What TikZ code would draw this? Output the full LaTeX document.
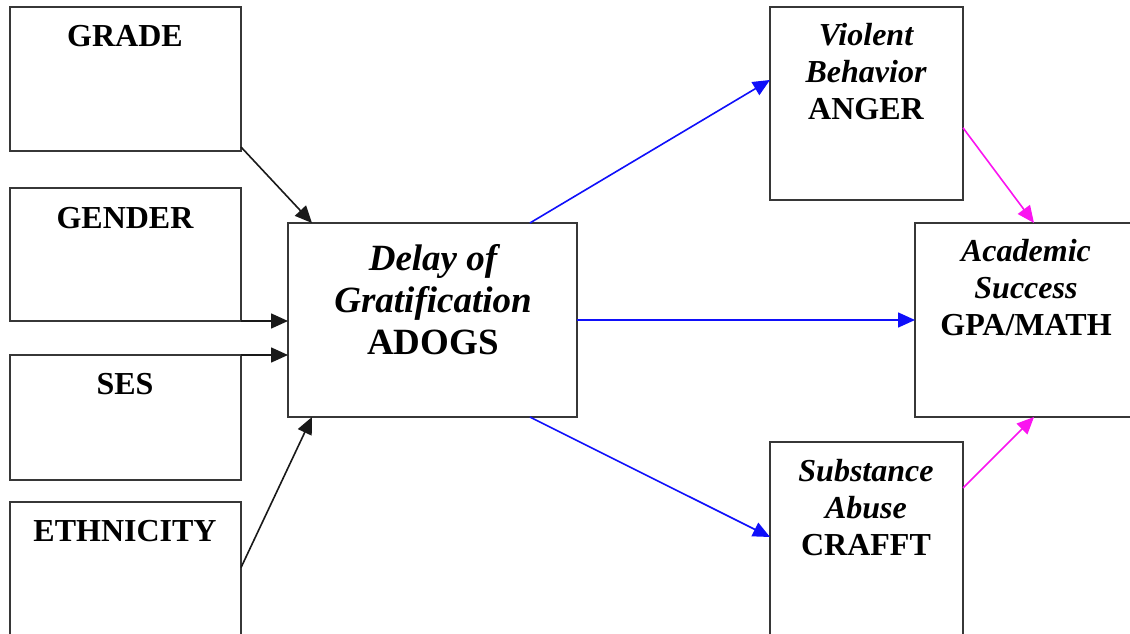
\documentclass[tikz,border=0pt]{standalone}
\usepackage{fontspec}
\setmainfont{Liberation Serif}
\usetikzlibrary{arrows.meta,calc}
\definecolor{boxline}{RGB}{55,55,55}
\definecolor{pathblue}{RGB}{15,15,250}
\definecolor{pathpink}{RGB}{250,20,240}
\tikzset{
  varbox/.style={draw=boxline,line width=1.9pt,rectangle,outer sep=0pt,inner sep=0pt},
  lbl/.style={anchor=base,align=center,inner sep=0pt,font=\fontsize{32}{37}\selectfont\bfseries},
  biglbl/.style={anchor=base,align=center,inner sep=0pt,font=\fontsize{37}{42}\selectfont\bfseries},
  tip/.style={-{Triangle[length=17pt,width=15pt]}},
  blackarrow/.style={tip,draw=black!90,line width=1.6pt},
  bluearrow/.style={tip,draw=pathblue,fill=pathblue,line width=1.6pt},
  pinkarrow/.style={tip,draw=pathpink,fill=pathpink,line width=1.6pt}
}
\begin{document}
\begin{tikzpicture}[x=1pt,y=-1pt]
\useasboundingbox (0,0) rectangle (1130,634);

% predictor boxes on the left
\node[varbox,minimum width=231pt,minimum height=144pt] (grade) at (125.5,79) {};
\node[varbox,minimum width=231pt,minimum height=133pt] (gender) at (125.5,254.5) {};
\node[varbox,minimum width=231pt,minimum height=125pt] (ses) at (125.5,417.5) {};
\node[varbox,minimum width=231pt,minimum height=160pt] (ethnicity) at (125.5,582) {};

% mediator, outcomes
\node[varbox,minimum width=289pt,minimum height=194pt] (adogs) at (432.5,320) {};
\node[varbox,minimum width=193pt,minimum height=193pt] (anger) at (866.5,103.5) {};
\node[varbox,minimum width=222pt,minimum height=194pt] (gpa) at (1026,320) {};
\node[varbox,minimum width=193pt,minimum height=200pt] (crafft) at (866.5,542) {};

% labels (multi-line labels sit on the baseline of their last line)
\node[lbl] (gradeT) at (125,47) {GRADE};
\node[lbl] (genderT) at (125,228) {GENDER};
\node[lbl] (sesT) at (125,394) {SES};
\node[lbl] (ethnicityT) at (125,541) {ETHNICITY};
\node[biglbl] (adogsT) at (433,354) {\itshape Delay of\\\itshape Gratification\\ADOGS};
\node[lbl] (angerT) at (866,119) {\itshape Violent\\\itshape Behavior\\ANGER};
\node[lbl] (gpaT) at (1026,335) {\itshape Academic\\\itshape Success\\GPA/MATH};
\node[lbl] (crafftT) at (866,555) {\itshape Substance\\\itshape Abuse\\CRAFFT};

% predictors -> delay of gratification
\draw[blackarrow] ($(grade.south east)+(0,-4)$) -- ($(adogs.north west)!0.083!(adogs.north east)$);
\draw[blackarrow] (gender.south east) -- (gender.south east -| adogs.west);
\draw[blackarrow] (ses.north east) -- (ses.north east -| adogs.west);
\draw[blackarrow] ($(ethnicity.north east)!0.41!(ethnicity.south east)$) -- ($(adogs.south west)!0.083!(adogs.south east)$);

% delay of gratification -> outcomes
\draw[bluearrow] ($(adogs.north west)!0.837!(adogs.north east)$) -- ($(anger.north west)!0.378!(anger.south west)$);
\draw[bluearrow] (adogs.east) -- (gpa.west);
\draw[bluearrow] ($(adogs.south west)!0.837!(adogs.south east)$) -- ($(crafft.north west)!0.475!(crafft.south west)$);

% behaviours -> academic success
\draw[pinkarrow] ($(anger.north east)!0.626!(anger.south east)$) -- ($(gpa.north west)!0.536!(gpa.north east)$);
\draw[pinkarrow] ($(crafft.north east)!0.23!(crafft.south east)$) -- ($(gpa.south west)!0.536!(gpa.south east)$);
\end{tikzpicture}
\end{document}
